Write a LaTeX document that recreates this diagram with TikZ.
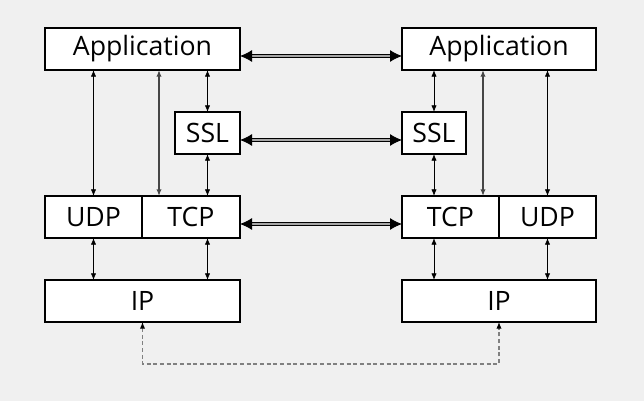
\documentclass[tikz,border=0pt]{standalone}
\usepackage{fontspec}
\setmainfont{Open Sans}
\usetikzlibrary{arrows.meta,calc}
\definecolor{bg}{RGB}{240,240,240}
\definecolor{midgray}{RGB}{70,70,70}
\begin{document}
\begin{tikzpicture}[x=0.75pt,y=-0.75pt,
  box/.style={draw=black,fill=white,line width=0.8pt,inner sep=0pt,outer sep=0pt,
    minimum height=31.5pt,font=\fontsize{20}{22}\selectfont},
  v/.style={line width=0.6pt,{Latex[length=5pt,width=4pt]}-{Latex[length=5pt,width=4pt]}},
  vg/.style={v,draw=midgray,line width=1pt},
  hd/.style={draw=black,double=gray!70,double distance=1.2pt,line width=0.7pt,
    {Latex[length=9pt,width=9pt]}-{Latex[length=9pt,width=9pt]}},
  dsh/.style={draw=gray,dashed,line width=0.8pt,dash pattern=on 3pt off 2pt,
    {Latex[length=5pt,width=4pt,black]}-{Latex[length=5pt,width=4pt,black]}}]
\fill[bg] (0,0) rectangle (644,401);
\useasboundingbox (0,0) rectangle (644,401);
% left stack
\node[box,minimum width=146.25pt] (app1) at (142.5,49) {Application};
\node[box,minimum width=48.75pt] (ssl1) at (207.5,133) {SSL};
\node[box,minimum width=72.75pt] (udp1) at (93.5,217) {UDP};
\node[box,minimum width=73.5pt] (tcp1) at (191,217) {TCP};
\node[box,minimum width=146.25pt] (ip1) at (142.5,301) {IP};
% right stack
\node[box,minimum width=145.5pt] (app2) at (499,49) {Application};
\node[box,minimum width=48pt] (ssl2) at (434,133) {SSL};
\node[box,minimum width=72.75pt] (tcp2) at (450.5,217) {TCP};
\node[box,minimum width=72.75pt] (udp2) at (547.5,217) {UDP};
\node[box,minimum width=145.5pt] (ip2) at (499,301) {IP};
% left verticals
\draw[v] (app1.south -| udp1.north) -- (udp1.north);
\draw[vg] ([xshift=12.75pt]tcp1.north west |- app1.south) -- ([xshift=12.75pt]tcp1.north west);
\draw[v] (app1.south -| ssl1.north) -- (ssl1.north);
\draw[v] (ssl1.south) -- (tcp1.north -| ssl1.south);
\draw[v] (udp1.south) -- (ip1.north -| udp1.south);
\draw[v] (tcp1.south -| ssl1.south) -- (ip1.north -| ssl1.south);
% right verticals
\draw[v] (app2.south -| ssl2.north) -- (ssl2.north);
\draw[v] (ssl2.south) -- (tcp2.north -| ssl2.south);
\draw[vg] ([xshift=-12pt]tcp2.north east |- app2.south) -- ([xshift=-12pt]tcp2.north east);
\draw[v] (app2.south -| udp2.north) -- (udp2.north);
\draw[v] (tcp2.south -| ssl2.south) -- (ip2.north -| ssl2.south);
\draw[v] (udp2.south) -- (ip2.north -| udp2.south);
% horizontal peer arrows
\draw[hd] ([yshift=-5.25pt]app1.east) -- ([yshift=-5.25pt]app2.west);
\draw[hd] ([yshift=-5.25pt]ssl1.east) -- ([yshift=-5.25pt]ssl2.west);
\draw[hd] ([yshift=-5.25pt]tcp1.east) -- ([yshift=-5.25pt]tcp2.west);
% dashed IP link
\draw[dsh] (ip1.south) -- ++(0,42) -| (ip2.south);
\end{tikzpicture}
\end{document}
